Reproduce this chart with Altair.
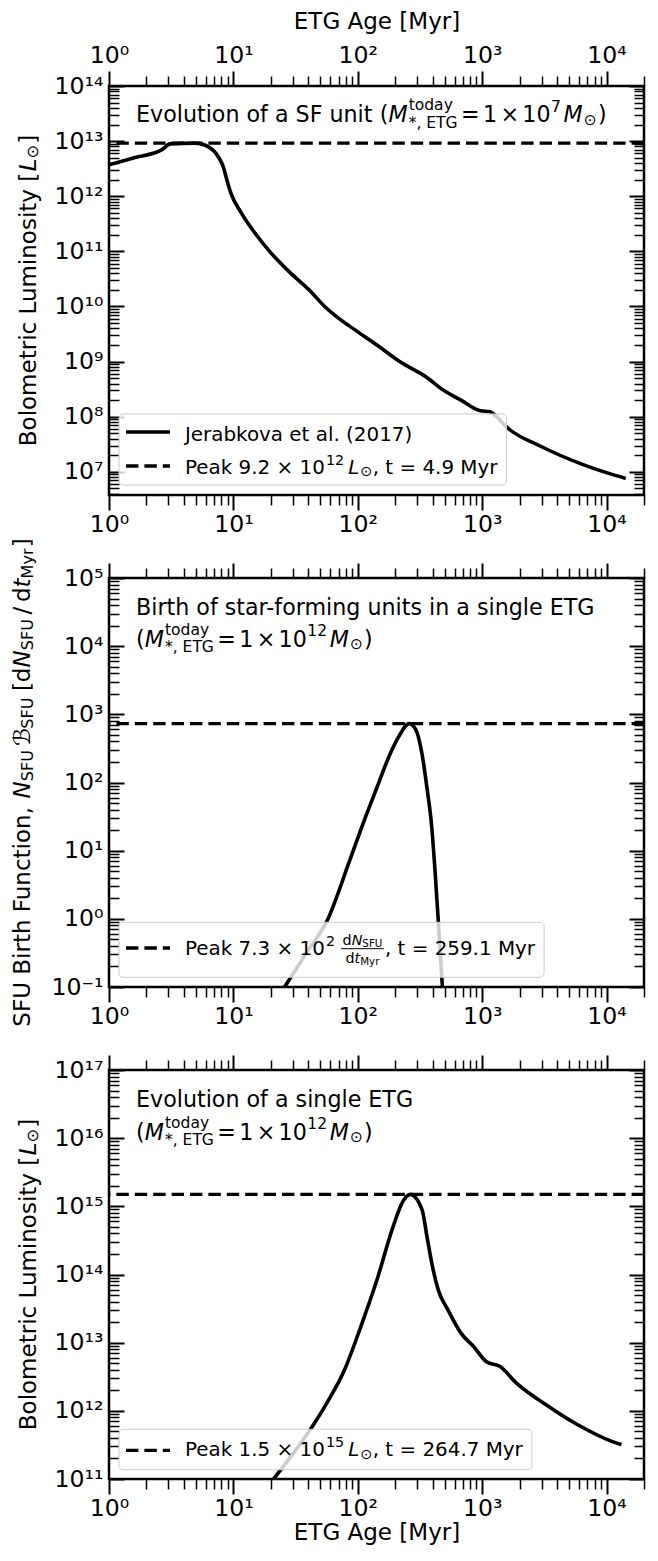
import math
import altair as alt
import pandas as pd

FONT = "DejaVu Sans"

# ---------------- data ----------------
# Panel 1: evolution of a single star-forming unit (Jerabkova et al. 2017)
sfu_age = [1.0, 1.6, 2.67, 3.1, 4.9, 6.35, 7.6, 8.3, 8.8, 9.6, 11.5, 14.7, 19.7, 28.3, 40.6,
           54.7, 65.5, 99.5, 142.5, 217, 371, 471, 675, 967, 1157, 1304, 1560, 3010, 6170,
           11240, 14270]
sfu_lum = [3.72e12, 5.0e12, 7.0e12, 8.9e12, 9.2e12, 7.8e12, 5.1e12, 3.4e12, 2.1e12, 1.1e12,
           5.1e11, 2.24e11, 9.8e10, 4.2e10, 2.0e10, 9.8e9, 6.9e9, 3.5e9, 2.0e9, 1.0e9,
           4.9e8, 3.2e8, 2.0e8, 1.28e8, 1.23e8, 1.0e8, 6.6e7, 2.85e7, 1.41e7, 8.9e6, 7.6e6]
sfu_peak = 9.2e12

# Panel 2: SFU birth function
birth_age = [25.8, 40.5, 56.4, 85.7, 112, 142, 181, 210, 259.1, 292, 329, 360, 394, 418, 444, 479]
birth_rate = [0.1, 0.36, 0.92, 7.0, 27, 83, 257, 447, 730, 603, 257, 83, 21.4, 5.0, 0.92, 0.1]
birth_peak = 7.3e2

# Panel 3: evolution of a single ETG
etg_age = [21, 31.9, 43.1, 56.4, 78.3, 106, 142.5, 192, 230, 264.7, 329, 360, 394, 444, 532,
           675, 857, 1090, 1384, 1867, 3397, 5820, 10900, 13200]
etg_lum = [1.0e11, 2.7e11, 5.9e11, 1.3e12, 4.0e12, 1.74e13, 8.3e13, 5.0e14, 1.17e15, 1.5e15,
           8.9e14, 3.6e14, 1.45e14, 5.9e13, 3.0e13, 1.38e13, 8.7e12, 5.2e12, 4.5e12, 2.6e12,
           1.17e12, 6.3e11, 3.6e11, 3.2e11]
etg_peak = 1.5e15

x_domain = [1, 2e4]
y1_domain = [3.8e6, 1e14]
y2_domain = [0.1, 1e5]
y3_domain = [1e11, 1e17]

# ---------------- style / layout ----------------
W, H = 535, 409
GAP = 83
T_ANN = 22.2      # in-panel annotation text
T_LEG = 19.9      # legend text
TICK_FS = 23.6
XTITLE_FS = 23.0
YTITLE_FS = 23.0
LINE_W = 3.6
DASH = [12.4, 6.0]
DASH_W = 3.3

ADV = {' ': 318, '(': 390, ')': 390, '[': 390, ']': 390, '*': 500, ',': 318, '.': 318,
       '/': 337, '-': 361, '=': 838, '×': 838, '⊙': 838, 'ℬ': 750}
for _d in '0123456789':
    ADV[_d] = 636
ADV.update(dict(zip('ABCDEFGHIJKLMNOPQRSTUVWXYZ',
                    [684, 686, 698, 770, 632, 575, 775, 752, 295, 295, 656, 557, 863, 748, 787,
                     603, 787, 695, 635, 611, 732, 684, 989, 685, 611, 685])))
ADV.update(dict(zip('abcdefghijklmnopqrstuvwxyz',
                    [613, 635, 550, 635, 615, 352, 635, 634, 278, 278, 579, 278, 974, 634, 612,
                     635, 635, 411, 521, 392, 634, 592, 818, 592, 592, 525])))


def P(text, it=False, sc=1.0, sh=0.0, gap=0.0, stack=False):
    return (text, it, sc, sh, gap, stack)


def adv(s, size):
    return sum(ADV.get(c, 600) for c in s) * size / 1000.0


def layout(pieces, base):
    items, maxpos, last = [], 0.0, 0.0
    for txt, it, sc, sh, gap, stack in pieces:
        size = base * sc
        start = last if stack else maxpos + gap * base
        items.append((txt, it, size, start, sh * base))
        last = start
        maxpos = max(maxpos, start + adv(txt, size))
    return items, maxpos


def rich(pieces, x0, y0, base, angle=0, center=False):
    items, total = layout(pieces, base)
    off = -total / 2 if center else 0.0
    rows = []
    for txt, it, size, start, sh in items:
        d = start + off
        if angle == 0:
            x, y = x0 + d, y0 + sh
        else:
            x, y = x0 + sh, y0 - d
        rows.append(dict(t=txt, it=it, s=round(size, 2), x=round(x, 2), y=round(y, 2), a=angle))
    return rows, x0 + off + total


def mass_line(exp):
    return [P("("), P("M", it=True), P("today", sc=.7, sh=-.52, gap=.05),
            P("*, ETG", sc=.7, sh=.25, stack=True), P("=", gap=.15), P("1", gap=.15),
            P("×", gap=.15), P("10", gap=.15), P(exp, sc=.7, sh=-.46, gap=.02),
            P("M", it=True, gap=.12), P("⊙", sc=.7, sh=.12, gap=.05), P(")", gap=.05)]


def peak_line(mant, exp, t_text):
    return [P("Peak " + mant + " × 10"), P(exp, sc=.72, sh=-.46, gap=.02),
            P("L", it=True, gap=.2), P("⊙", sc=.72, sh=.12, gap=.05), P(", t = " + t_text, gap=.02)]


def lum_title():
    return [P("Bolometric Luminosity ["), P("L", it=True, gap=.05), P("⊙", sc=.7, sh=.12),
            P("]", gap=.05)]


SUPS = str.maketrans('-0123456789', '⁻⁰¹²³⁴⁵⁶⁷⁸⁹')


def pow_expr(exps):
    expr = "''"
    for e in exps:
        expr = f"(round(log(datum.value)/LN10) == {e} ? '10{str(e).translate(SUPS)}' : {expr})"
    return expr


def majors(dom):
    lo = int(math.ceil(math.log10(dom[0]) - 1e-9))
    hi = int(math.floor(math.log10(dom[1]) + 1e-9))
    return [10.0 ** k for k in range(lo, hi + 1)]


def minors(dom):
    out = []
    k = math.floor(math.log10(dom[0]))
    while 10.0 ** k <= dom[1]:
        for m in range(2, 10):
            v = m * 10.0 ** k
            if dom[0] <= v <= dom[1]:
                out.append(v)
        k += 1
    return out


def axis(orient, values, major, labels=False, title=None, offset=0, label_pad=2, title_pad=10):
    kw = dict(orient=orient, values=values, grid=False, domain=False, ticks=True,
              tickSize=15 if major else 10, tickWidth=2 if major else 1.5,
              tickColor="black", offset=offset, labels=labels, title=title,
              minExtent=0)
    if labels:
        exps = [round(math.log10(v)) for v in values]
        kw.update(labelExpr=pow_expr(exps), labelFont=FONT, labelFontSize=TICK_FS,
                  labelColor="black", labelPadding=label_pad, labelFlush=False,
                  labelOverlap=False)
    if title:
        kw.update(titleFont=FONT, titleFontSize=XTITLE_FS, titleFontWeight="normal",
                  titleColor="black", titlePadding=title_pad)
    return alt.Axis(**kw)


def text_layers(rows):
    df = pd.DataFrame(rows)
    out = []
    for it in (False, True):
        sub = df[df.it == it].drop(columns=["it"])
        if len(sub) == 0:
            continue
        out.append(
            alt.Chart(sub).mark_text(align="left", baseline="alphabetic", font=FONT,
                                     fontStyle="italic" if it else "normal", color="black")
            .encode(x=alt.X("x:Q", scale=None, axis=None),
                    y=alt.Y("y:Q", scale=None, axis=None),
                    text="t:N",
                    size=alt.Size("s:Q", scale=None, legend=None),
                    angle=alt.Angle("a:Q", scale=None, legend=None)))
    return out


ONE = pd.DataFrame({"k": [0]})


def legend_box(x0, x1, y0, y1):
    return alt.Chart(ONE).mark_rect(fill="white", fillOpacity=0.8, stroke="#cccccc",
                                    strokeWidth=1, cornerRadius=4).encode(
        x=alt.value(x0), x2=alt.value(x1), y=alt.value(y0), y2=alt.value(y1))


def legend_line(y, dashed):
    kw = dict(color="black", strokeWidth=DASH_W if dashed else LINE_W)
    if dashed:
        kw["strokeDash"] = DASH
    return alt.Chart(ONE).mark_rule(**kw).encode(x=alt.value(17), x2=alt.value(61), y=alt.value(y))


def panel(ages, vals, peak, ydom, top_labels, bottom_title, overlay):
    df = pd.DataFrame({"t": ages, "v": vals})
    xs = alt.Scale(type="log", domain=x_domain, nice=False)
    ys = alt.Scale(type="log", domain=ydom, nice=False)
    xmaj, xmin = [1, 10, 100, 1000, 10000], minors(x_domain)
    ymaj, ymin = majors(ydom), minors(ydom)

    def enc(xa, ya):
        return dict(x=alt.X("t:Q", scale=xs, axis=xa), y=alt.Y("v:Q", scale=ys, axis=ya))

    base = alt.Chart(df)
    curve = base.mark_line(color="black", strokeWidth=LINE_W, interpolate="monotone",
                           clip=True).encode(
        **enc(axis("bottom", xmaj, True, labels=True, title=bottom_title, label_pad=2,
                   title_pad=2),
              axis("left", ymaj, True, labels=True, offset=-15, label_pad=6)))
    g1 = base.mark_line(opacity=0).encode(
        **enc(axis("bottom", xmin, False), axis("left", ymin, False, offset=-10)))
    g2 = base.mark_line(opacity=0).encode(
        **enc(axis("top", xmaj, True, labels=top_labels,
                   title="ETG Age [Myr]" if top_labels else None, label_pad=4, title_pad=10),
              axis("right", ymaj, True, offset=-15)))
    g3 = base.mark_line(opacity=0).encode(
        **enc(axis("top", xmin, False), axis("right", ymin, False, offset=-10)))
    peak_rule = alt.Chart(pd.DataFrame({"v": [peak]})).mark_rule(
        color="black", strokeWidth=DASH_W, strokeDash=DASH).encode(
        y=alt.Y("v:Q", scale=ys, axis=None))
    return alt.layer(curve, g1, g2, g3, peak_rule, *overlay).resolve_axis(
        x="independent", y="independent").properties(width=W, height=H)


# ---------------- panel 1 overlays ----------------
rows1 = []
r, _ = rich([P("Evolution of a SF unit ")] + mass_line("7"), 27, 36, T_ANN)
rows1 += r
r, e1a = rich([P("Jerabkova et al. (2017)")], 76, H - 54, T_LEG)
rows1 += r
r, e1b = rich(peak_line("9.2", "12", "4.9 Myr"), 76, H - 21, T_LEG)
rows1 += r
r, _ = rich(lum_title(), -73.4, H / 2, YTITLE_FS, angle=270, center=True)
rows1 += r
over1 = [legend_box(10, max(e1a, e1b) + 9, H - 81, H - 10), legend_line(H - 63, False),
         legend_line(H - 29, True)] + text_layers(rows1)

# ---------------- panel 2 overlays ----------------
rows2 = []
r, _ = rich([P("Birth of star-forming units in a single ETG")], 27, 36.5, T_ANN)
rows2 += r
r, _ = rich(mass_line("12"), 27, 68.5, T_ANN)
rows2 += r
r, e2 = rich([P("Peak 7.3 × 10"), P("2", sc=.72, sh=-.46, gap=.02)], 76, H - 32, T_LEG)
rows2 += r
F = 0.72 * T_LEG
num = [P("d"), P("N", it=True), P("SFU", sc=.72, sh=.15)]
den = [P("d"), P("t", it=True), P("Myr", sc=.72, sh=.15)]
wn, wd = layout(num, F)[1], layout(den, F)[1]
bar0 = e2 + 0.3 * T_LEG
bw = max(wn, wd) + 3
r, _ = rich(num, bar0 + (bw - wn) / 2, H - 42.5, F)
rows2 += r
r, _ = rich(den, bar0 + (bw - wd) / 2, H - 24, F)
rows2 += r
r, e2b = rich([P(", t = 259.1 Myr")], bar0 + bw + 0.05 * T_LEG, H - 32, T_LEG)
rows2 += r
r, _ = rich([P("SFU Birth Function, "), P("N", it=True), P("SFU", sc=.7, sh=.15),
             P("ℬ", gap=.17), P("SFU", sc=.7, sh=.15), P("[", gap=.28), P("d"),
             P("N", it=True), P("SFU", sc=.7, sh=.15), P("/", gap=.2), P("d", gap=.2),
             P("t", it=True), P("Myr", sc=.7, sh=.15), P("]", gap=.05)],
            -79, H / 2, YTITLE_FS, angle=270, center=True)
rows2 += r
frac_bar = alt.Chart(ONE).mark_rule(color="black", strokeWidth=1).encode(
    x=alt.value(bar0), x2=alt.value(bar0 + bw), y=alt.value(H - 38.3))
over2 = [legend_box(10, e2b + 9, H - 64.7, H - 9.7), legend_line(H - 39, True), frac_bar] + \
    text_layers(rows2)

# ---------------- panel 3 overlays ----------------
rows3 = []
r, _ = rich([P("Evolution of a single ETG")], 27, 37, T_ANN)
rows3 += r
r, _ = rich(mass_line("12"), 27, 69.5, T_ANN)
rows3 += r
r, e3 = rich(peak_line("1.5", "15", "264.7 Myr"), 76, H - 22.7, T_LEG)
rows3 += r
r, _ = rich(lum_title(), -73.4, H / 2, YTITLE_FS, angle=270, center=True)
rows3 += r
over3 = [legend_box(10, e3 + 9, H - 49.7, H - 9.3), legend_line(H - 28.7, True)] + \
    text_layers(rows3)

p1 = panel(sfu_age, sfu_lum, sfu_peak, y1_domain, True, None, over1)
p2 = panel(birth_age, birth_rate, birth_peak, y2_domain, False, None, over2)
p3 = panel(etg_age, etg_lum, etg_peak, y3_domain, False, "ETG Age [Myr]", over3)

chart = alt.vconcat(p1, p2, p3, spacing=GAP, bounds="flush").properties(
    padding={"left": 2, "top": 0, "right": 0, "bottom": 0}
).configure_view(stroke="black", strokeWidth=2.5)

chart.save("out.html", embed_options={"renderer": "svg", "actions": False})
